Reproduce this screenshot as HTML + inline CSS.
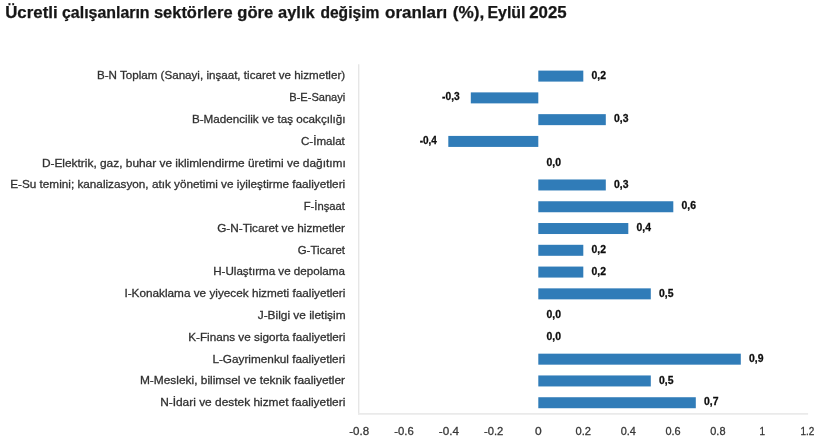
<!DOCTYPE html>
<html lang="tr"><head><meta charset="utf-8"><title>Ücretli çalışanların sektörlere göre aylık değişim oranları</title>
<style>
html,body{margin:0;padding:0;background:#fff;}
body{width:820px;height:442px;overflow:hidden;font-family:"Liberation Sans",sans-serif;}
svg{display:block;}

.t{font-family:"Liberation Sans",sans-serif;font-weight:bold;font-size:16px;fill:#161616;stroke:#161616;stroke-width:0.25px;}
.c{font-family:"Liberation Sans",sans-serif;font-size:11.2px;fill:#303030;stroke:#303030;stroke-width:0.28px;}
.a{font-family:"Liberation Sans",sans-serif;font-size:11.3px;fill:#363636;stroke:#363636;stroke-width:0.28px;}
.v{font-family:"Liberation Sans",sans-serif;font-weight:bold;font-size:10.4px;fill:#0c0c0c;stroke:#0c0c0c;stroke-width:0.27px;}
.b{fill:#307cb8;}
</style></head><body>
<svg width="820" height="442" viewBox="0 0 820 442">
<rect width="820" height="442" fill="#fff"/>
<path d="M358.7 64.2V414.4" stroke="#e6e6e6" stroke-width="1.4" fill="none"/>
<path d="M358 413.8H808.1" stroke="#eaeaea" stroke-width="1.7" fill="none"/>
<text class="t" y="18.15"><tspan x="5.21" textLength="52.39" lengthAdjust="spacingAndGlyphs">Ücretli</tspan> <tspan x="62.00" textLength="87.59" lengthAdjust="spacingAndGlyphs">çalışanların</tspan> <tspan x="153.99" textLength="78.57" lengthAdjust="spacingAndGlyphs">sektörlere</tspan> <tspan x="237.28" textLength="35.96" lengthAdjust="spacingAndGlyphs">göre</tspan> <tspan x="278.04" textLength="36.60" lengthAdjust="spacingAndGlyphs">aylık</tspan> <tspan x="320.41" textLength="58.99" lengthAdjust="spacingAndGlyphs">değişim</tspan> <tspan x="385.07" textLength="62.12" lengthAdjust="spacingAndGlyphs">oranları</tspan> <tspan x="452.76" textLength="31.53" lengthAdjust="spacingAndGlyphs">(%),</tspan> <tspan x="487.51" textLength="37.97" lengthAdjust="spacingAndGlyphs">Eylül</tspan> <tspan x="529.27" textLength="37.39" lengthAdjust="spacingAndGlyphs">2025</tspan></text>
<text class="c" x="96.92" y="79.45" textLength="248.22" lengthAdjust="spacingAndGlyphs">B-N Toplam (Sanayi, inşaat, ticaret ve hizmetler)</text>
<text class="c" x="289.26" y="101.23" textLength="56.03" lengthAdjust="spacingAndGlyphs">B-E-Sanayi</text>
<text class="c" x="191.92" y="123.00" textLength="153.69" lengthAdjust="spacingAndGlyphs">B-Madencilik ve taş ocakçılığı</text>
<text class="c" x="300.93" y="144.77" textLength="43.94" lengthAdjust="spacingAndGlyphs">C-İmalat</text>
<text class="c" x="41.90" y="166.55" textLength="303.86" lengthAdjust="spacingAndGlyphs">D-Elektrik, gaz, buhar ve iklimlendirme üretimi ve dağıtımı</text>
<text class="c" x="10.16" y="188.32" textLength="335.03" lengthAdjust="spacingAndGlyphs">E-Su temini; kanalizasyon, atık yönetimi ve iyileştirme faaliyetleri</text>
<text class="c" x="303.70" y="210.10" textLength="41.20" lengthAdjust="spacingAndGlyphs">F-İnşaat</text>
<text class="c" x="217.17" y="231.87" textLength="127.86" lengthAdjust="spacingAndGlyphs">G-N-Ticaret ve hizmetler</text>
<text class="c" x="297.69" y="253.65" textLength="47.36" lengthAdjust="spacingAndGlyphs">G-Ticaret</text>
<text class="c" x="213.17" y="275.43" textLength="131.77" lengthAdjust="spacingAndGlyphs">H-Ulaştırma ve depolama</text>
<text class="c" x="124.41" y="297.20" textLength="221.00" lengthAdjust="spacingAndGlyphs">I-Konaklama ve yiyecek hizmeti faaliyetleri</text>
<text class="c" x="257.70" y="318.97" textLength="87.86" lengthAdjust="spacingAndGlyphs">J-Bilgi ve iletişim</text>
<text class="c" x="188.16" y="340.75" textLength="157.18" lengthAdjust="spacingAndGlyphs">K-Finans ve sigorta faaliyetleri</text>
<text class="c" x="212.41" y="362.52" textLength="132.78" lengthAdjust="spacingAndGlyphs">L-Gayrimenkul faaliyetleri</text>
<text class="c" x="139.90" y="384.30" textLength="205.18" lengthAdjust="spacingAndGlyphs">M-Mesleki, bilimsel ve teknik faaliyetler</text>
<text class="c" x="160.15" y="406.07" textLength="185.20" lengthAdjust="spacingAndGlyphs">N-İdari ve destek hizmet faaliyetleri</text>
<text class="a" x="349.24" y="435.00" textLength="19.88" lengthAdjust="spacingAndGlyphs">-0.8</text>
<text class="a" x="394.25" y="435.00" textLength="19.47" lengthAdjust="spacingAndGlyphs">-0.6</text>
<text class="a" x="438.84" y="435.00" textLength="20.08" lengthAdjust="spacingAndGlyphs">-0.4</text>
<text class="a" x="484.05" y="435.00" textLength="19.31" lengthAdjust="spacingAndGlyphs">-0.2</text>
<text class="a" x="534.93" y="435.00" textLength="6.68" lengthAdjust="spacingAndGlyphs">0</text>
<text class="a" x="575.45" y="435.00" textLength="15.51" lengthAdjust="spacingAndGlyphs">0.2</text>
<text class="a" x="620.66" y="435.00" textLength="15.25" lengthAdjust="spacingAndGlyphs">0.4</text>
<text class="a" x="665.46" y="435.00" textLength="15.25" lengthAdjust="spacingAndGlyphs">0.6</text>
<text class="a" x="710.26" y="435.00" textLength="15.25" lengthAdjust="spacingAndGlyphs">0.8</text>
<text class="a" x="759.58" y="435.00" textLength="5.54" lengthAdjust="spacingAndGlyphs">1</text>
<text class="a" x="800.44" y="435.00" textLength="13.88" lengthAdjust="spacingAndGlyphs">1.2</text>
<text class="v" x="442.05" y="100.48" textLength="17.60" lengthAdjust="spacingAndGlyphs">-0,3</text>
<text class="v" x="419.66" y="144.02" textLength="17.25" lengthAdjust="spacingAndGlyphs">-0,4</text>
<rect class="b" x="538.3" y="70.60" width="45.0" height="11.0"/>
<text class="v" x="591.6" y="78.80">0,2</text>
<rect class="b" x="470.8" y="92.38" width="67.5" height="11.0"/>
<rect class="b" x="538.3" y="114.15" width="67.5" height="11.0"/>
<text class="v" x="614.1" y="122.35">0,3</text>
<rect class="b" x="448.3" y="135.92" width="90.0" height="11.0"/>
<text class="v" x="546.6" y="165.90">0,0</text>
<rect class="b" x="538.3" y="179.47" width="67.5" height="11.0"/>
<text class="v" x="614.1" y="187.68">0,3</text>
<rect class="b" x="538.3" y="201.25" width="135.0" height="11.0"/>
<text class="v" x="681.6" y="209.45">0,6</text>
<rect class="b" x="538.3" y="223.02" width="90.0" height="11.0"/>
<text class="v" x="636.6" y="231.22">0,4</text>
<rect class="b" x="538.3" y="244.80" width="45.0" height="11.0"/>
<text class="v" x="591.6" y="253.00">0,2</text>
<rect class="b" x="538.3" y="266.57" width="45.0" height="11.0"/>
<text class="v" x="591.6" y="274.78">0,2</text>
<rect class="b" x="538.3" y="288.35" width="112.5" height="11.0"/>
<text class="v" x="659.1" y="296.55">0,5</text>
<text class="v" x="546.6" y="318.32">0,0</text>
<text class="v" x="546.6" y="340.10">0,0</text>
<rect class="b" x="538.3" y="353.67" width="202.5" height="11.0"/>
<text class="v" x="749.1" y="361.88">0,9</text>
<rect class="b" x="538.3" y="375.45" width="112.5" height="11.0"/>
<text class="v" x="659.1" y="383.65">0,5</text>
<rect class="b" x="538.3" y="397.23" width="157.5" height="11.0"/>
<text class="v" x="704.1" y="405.43">0,7</text>
</svg></body></html>
